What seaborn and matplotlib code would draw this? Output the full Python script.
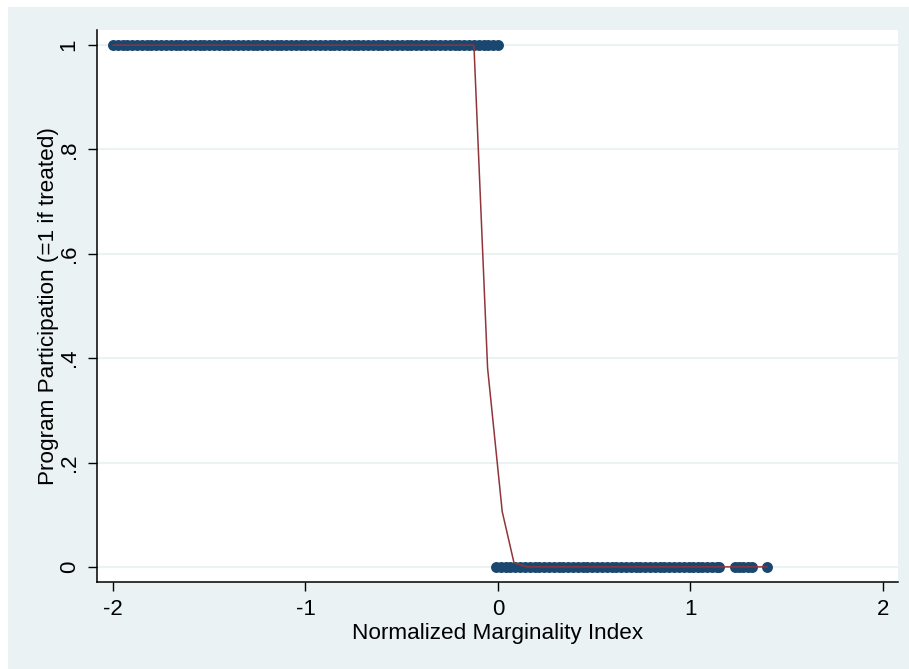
import matplotlib
matplotlib.use("Agg")
import matplotlib.pyplot as plt
import seaborn as sns
import pandas as pd

# ---- data ----
treated_index = [-2.000, -1.975, -1.950, -1.925, -1.900, -1.875, -1.850, -1.825, -1.800, -1.775,
                 -1.750, -1.725, -1.700, -1.675, -1.650, -1.625, -1.600, -1.575, -1.550, -1.525,
                 -1.500, -1.475, -1.450, -1.425, -1.400, -1.375, -1.350, -1.325, -1.300, -1.275,
                 -1.250, -1.225, -1.200, -1.175, -1.150, -1.125, -1.100, -1.075, -1.050, -1.025,
                 -1.000, -0.975, -0.950, -0.925, -0.900, -0.875, -0.850, -0.825, -0.800, -0.775,
                 -0.750, -0.725, -0.700, -0.675, -0.650, -0.625, -0.600, -0.575, -0.550, -0.525,
                 -0.500, -0.475, -0.450, -0.425, -0.400, -0.375, -0.350, -0.325, -0.300, -0.275,
                 -0.250, -0.225, -0.200, -0.175, -0.150, -0.125, -0.100, -0.075, -0.050, -0.025,
                 0.000]
untreated_index = [-0.010, 0.015, 0.040, 0.065, 0.090, 0.115, 0.140, 0.165, 0.190, 0.215,
                   0.240, 0.265, 0.290, 0.315, 0.340, 0.365, 0.390, 0.415, 0.440, 0.465,
                   0.490, 0.515, 0.540, 0.565, 0.590, 0.615, 0.640, 0.665, 0.690, 0.715,
                   0.740, 0.765, 0.790, 0.815, 0.840, 0.865, 0.890, 0.915, 0.940, 0.965,
                   0.990, 1.015, 1.040, 1.060, 1.085, 1.110, 1.140, 1.150,
                   1.230, 1.250, 1.275, 1.300, 1.320, 1.400]
fit_x = [-2.000, -0.125, -0.054, 0.022, 0.083, 0.150, 1.400]
fit_y = [1.000, 1.000, 0.381, 0.106, 0.008, 0.000, 0.000]

x_ticks = [-2, -1, 0, 1, 2]
x_tick_labels = ["-2", "-1", "0", "1", "2"]
y_ticks = [0, 0.2, 0.4, 0.6, 0.8, 1.0]
y_tick_labels = ["0", ".2", ".4", ".6", ".8", "1"]

points = pd.DataFrame({
    "index": treated_index + untreated_index,
    "participation": [1] * len(treated_index) + [0] * len(untreated_index),
})
fit = pd.DataFrame({"x": fit_x, "y": fit_y})

sns.set_style("white")
plt.rcParams["font.family"] = ["Liberation Sans", "DejaVu Sans"]
plt.rcParams["text.color"] = "black"
plt.rcParams["axes.labelcolor"] = "black"

BG = "#eaf2f3"
NAVY = "#1a476f"
MAROON = "#90353b"

fig = plt.figure(figsize=(9.09, 6.69), dpi=100, facecolor="white")

# outer graph region (light blue-grey), white strips at top and left
bg = fig.add_axes([8 / 909, 0, 1 - 8 / 909, (669 - 7) / 669], zorder=0)
bg.set_facecolor(BG)
bg.set_xticks([])
bg.set_yticks([])
for s in bg.spines.values():
    s.set_visible(False)

ax = fig.add_axes([97 / 909, 1 - 582 / 669, (898 - 97) / 909, (582 - 30) / 669], zorder=1)
ax.set_facecolor("white")

sns.scatterplot(data=points, x="index", y="participation", ax=ax, color=NAVY,
                s=62, linewidth=0, alpha=1, zorder=3, legend=False)
sns.lineplot(data=fit, x="x", y="y", ax=ax, color=MAROON, linewidth=1.1,
             sort=False, estimator=None, zorder=4)

ax.set_xlim(-2.083, 2.078)
ax.set_ylim(-0.029, 1.029)
ax.set_xticks(x_ticks)
ax.set_xticklabels(x_tick_labels)
ax.set_yticks(y_ticks)
ax.set_yticklabels(y_tick_labels, rotation=90, va="center")
ax.tick_params(axis="both", direction="out", length=6.5, width=1.0, color="black",
               labelsize=16, pad=6, labelcolor="black")
ax.tick_params(axis="both", which="both", bottom=True, left=True)

ax.grid(axis="y", color=BG, linewidth=1.5)
ax.grid(axis="x", visible=False)
ax.set_axisbelow(True)
for side in ["top", "right"]:
    ax.spines[side].set_visible(False)
for side in ["left", "bottom"]:
    ax.spines[side].set_color("black")
    ax.spines[side].set_linewidth(1.1)

ax.set_xlabel("Normalized Marginality Index", fontsize=16.2, labelpad=2, color="black")
ax.set_ylabel("Program Participation (=1 if treated)", fontsize=16.2, labelpad=0, color="black")

fig.savefig("out.png", dpi=100, facecolor="white")
